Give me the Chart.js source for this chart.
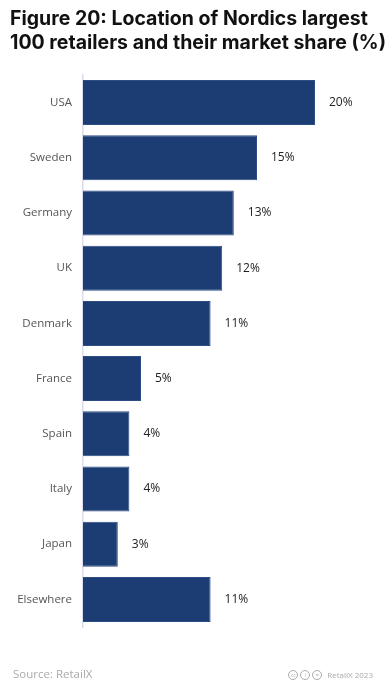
<!DOCTYPE html>
<html>
<head>
<meta charset="utf-8">
<script src="https://cdn.jsdelivr.net/npm/chart.js@4/dist/chart.umd.min.js"></script>
<style>
  html, body { margin: 0; padding: 0; background: #fff; }
  body { width: 388px; height: 686px; position: relative; overflow: hidden; font-family: "Open Sans", sans-serif; }
  #title { position: absolute; left: 10px; top: 6px; font-family: Inter, sans-serif; font-weight: 700; font-size: 19.5px; line-height: 24px; color: #111; white-space: nowrap; }
  #wrap { position: absolute; left: 0; top: 0; width: 388px; height: 686px; }
  #src { position: absolute; left: 13px; top: 666px; font-size: 11.5px; color: #aaa; }
  #lic { position: absolute; right: 15px; top: 669px; font-size: 8px; color: #aaa; display: flex; align-items: center; gap: 2px; }
  .ic { display: inline-block; width: 8px; height: 8px; border: 1px solid #aaa; border-radius: 50%; font-size: 5px; line-height: 8px; text-align: center; }
</style>
</head>
<body>
<div id="wrap"><canvas id="chart"></canvas></div>
<div id="title">Figure 20: Location of Nordics largest<br>100 retailers and their market share (%)</div>
<div id="src">Source: RetailX</div>
<div id="lic"><span class="ic">cc</span><span class="ic">i</span><span class="ic">=</span><span style="margin-left:3px">RetailX 2023</span></div>
<script>
const countries = ['USA', 'Sweden', 'Germany', 'UK', 'Denmark', 'France', 'Spain', 'Italy', 'Japan', 'Elsewhere'];
const shares = [20, 15, 13, 12, 11, 5, 4, 4, 3, 11];

// etiquetas de valor al final de cada barra
const valueLabels = {
  id: 'valueLabels',
  afterDatasetsDraw(chart) {
    const ctx = chart.ctx;
    const meta = chart.getDatasetMeta(0);
    ctx.save();
    ctx.font = '12px "Open Sans"';
    ctx.fillStyle = '#222';
    ctx.textAlign = 'left';
    ctx.textBaseline = 'middle';
    meta.data.forEach((bar, i) => {
      ctx.fillText(shares[i] + '%', bar.x + 14, bar.y);
    });
    ctx.restore();
  }
};

new Chart(document.getElementById('chart'), {
  type: 'bar',
  data: {
    labels: countries,
    datasets: [{
      data: shares,
      backgroundColor: '#1c3d74',
      borderColor: '#2c4c84',
      borderWidth: 1,
      borderSkipped: 'left',
      barPercentage: 0.815,
      categoryPercentage: 1
    }]
  },
  options: {
    indexAxis: 'y',
    responsive: true,
    maintainAspectRatio: false,
    animation: false,
    layout: { padding: { top: 75, bottom: 59, left: 0, right: 15 } },
    plugins: { legend: { display: false }, tooltip: { enabled: false } },
    scales: {
      x: { display: false, min: 0, max: 25 },
      y: {
        afterFit(scale) { scale.width = 83; },
        grid: { display: false },
        border: { color: '#dcdcec', width: 1.5 },
        ticks: { color: '#555', padding: 3, font: { family: 'Open Sans', size: 11.5 } }
      }
    }
  },
  plugins: [valueLabels]
});
</script>
</body>
</html>
